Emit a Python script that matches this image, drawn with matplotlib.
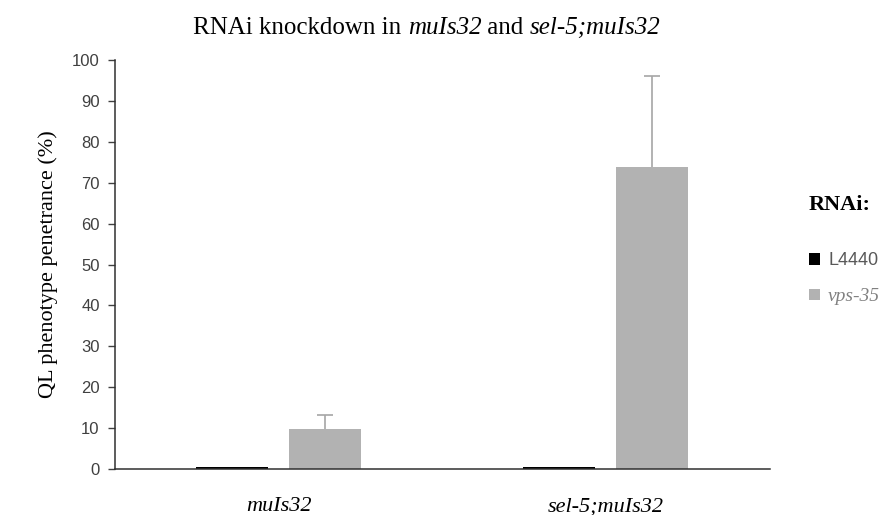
import matplotlib
matplotlib.use('Agg')
import matplotlib.pyplot as plt
import numpy as np
from matplotlib.transforms import offset_copy

# data
strains = ['muIs32', 'sel-5;muIs32']
rnai = ['L4440', 'vps-35']
l4440_vals = [0.4, 0.4]
vps35_vals = [9.8, 73.8]
vps35_err = [3.4, 22.3]
yticks = [0, 10, 20, 30, 40, 50, 60, 70, 80, 90, 100]

serif = 'Liberation Serif'
sans = 'Liberation Sans'

fig = plt.figure(figsize=(8.93, 5.15), dpi=100)
ax = fig.add_axes([0.1288, 0.0893, 0.862 - 0.1288, 0.8835 - 0.0893])

x = np.arange(len(strains))
w = 0.22
b1 = ax.bar(x - 0.144, l4440_vals, w, color='black', label=rnai[0])
b2 = ax.bar(x + 0.141, vps35_vals, w, color='#b2b2b2', label=rnai[1],
            yerr=[np.zeros(len(vps35_err)), vps35_err],
            error_kw=dict(ecolor='#a6a6a6', elinewidth=1.2, capsize=5.8, capthick=1.2))
# only the upper cap (plus-direction error bars)
caps = b2.errorbar.lines[1]
if len(caps) > 0:
    caps[0].set_visible(False)

ax.set_xlim(-0.5, 1.5)
ax.set_ylim(0, 100)
ax.set_yticks(yticks)
ax.set_yticklabels([str(v) for v in yticks], fontfamily=sans, fontsize=12, color='#404040')
ax.tick_params(axis='y', direction='out', length=5, width=1, color='#404040', pad=6)
ax.set_xticks(x)
ax.set_xticklabels(strains, fontfamily=serif, fontstyle='italic', fontsize=16)
ax.tick_params(axis='x', length=0, pad=20)
for s in ['top', 'right']:
    ax.spines[s].set_visible(False)
for s in ['left', 'bottom']:
    ax.spines[s].set_color('#303030')
    ax.spines[s].set_linewidth(1.1)

ax.set_ylabel('QL phenotype penetrance (%)', fontfamily=serif, fontsize=16, labelpad=10)

# title with mixed italic pieces
pieces = [('RNAi knockdown in ', 'normal'), ('muIs32', 'italic'), (' and ', 'normal'),
          ('sel-5;muIs32', 'italic')]
renderer = fig.canvas.get_renderer()
texts = []
dx = 0
for s, st in pieces:
    t = fig.text(0, 0.945, s, fontfamily=serif, fontstyle=st, fontsize=18,
                 va='center', ha='left',
                 transform=offset_copy(fig.transFigure, fig=fig, x=dx, y=0, units='dots'))
    ext = t.get_window_extent(renderer)
    dx += ext.width
    texts.append(t)
start = 0.478 * fig.bbox.width - dx / 2
for t in texts:
    t.set_x(start / fig.bbox.width)

# legend
fig.text(0.906, 0.602, 'RNAi:', fontfamily=serif, fontweight='bold', fontsize=16,
         va='center', ha='left')
leg = fig.legend(handles=[b1, b2], labels=rnai, loc='center left',
                 bbox_to_anchor=(0.906, 0.459), frameon=False, prop={'size': 13},
                 handlelength=0.6, handleheight=0.6, handletextpad=0.45,
                 labelspacing=1.05, borderaxespad=0, borderpad=0)
lt = leg.get_texts()
lt[0].set_fontfamily(sans)
lt[0].set_fontsize(13)
lt[0].set_color('#595959')
lt[1].set_fontfamily(serif)
lt[1].set_fontstyle('italic')
lt[1].set_fontsize(14)
lt[1].set_color('#808080')

fig.savefig('out.png', dpi=100)
